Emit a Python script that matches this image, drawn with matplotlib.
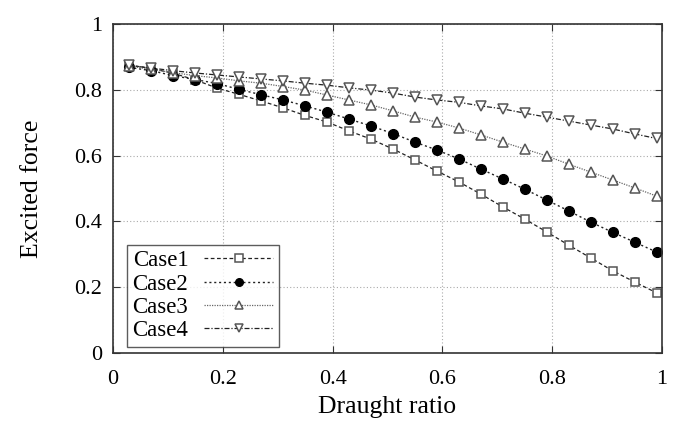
import numpy as np
import matplotlib
matplotlib.use("Agg")
import matplotlib.pyplot as plt

plt.rcParams["font.family"] = ["Liberation Serif", "DejaVu Serif"]

draught = np.round(np.arange(0.03, 1.0, 0.04), 2)

case1 = [0.875, 0.865, 0.850, 0.830, 0.805, 0.786, 0.766, 0.745, 0.722, 0.702,
         0.675, 0.650, 0.620, 0.587, 0.553, 0.520, 0.483, 0.444, 0.407, 0.368,
         0.328, 0.289, 0.250, 0.216, 0.183]
case2 = [0.868, 0.858, 0.843, 0.831, 0.819, 0.801, 0.785, 0.769, 0.751, 0.732,
         0.711, 0.690, 0.667, 0.641, 0.617, 0.590, 0.559, 0.529, 0.498, 0.465,
         0.432, 0.398, 0.367, 0.337, 0.307]
case3 = [0.872, 0.862, 0.852, 0.843, 0.836, 0.827, 0.820, 0.810, 0.799, 0.784,
         0.769, 0.754, 0.736, 0.717, 0.702, 0.684, 0.663, 0.641, 0.620, 0.599,
         0.574, 0.550, 0.526, 0.502, 0.477]
case4 = [0.874, 0.866, 0.858, 0.851, 0.845, 0.839, 0.833, 0.827, 0.820, 0.814,
         0.806, 0.799, 0.790, 0.778, 0.769, 0.762, 0.751, 0.742, 0.729, 0.717,
         0.705, 0.693, 0.681, 0.666, 0.652]

labels = ["Case1", "Case2", "Case3", "Case4"]
ticks = [0, 0.2, 0.4, 0.6, 0.8, 1.0]
tick_labels = ["0", "0.2", "0.4", "0.6", "0.8", "1"]

fig = plt.figure(figsize=(6.87, 4.23), dpi=100)
ax = fig.add_axes([113 / 687, (423 - 353) / 423, 549 / 687, 329 / 423])

grey = "#555555"
ax.plot(draught, case1, linestyle=(0, (3, 2)), color="#222222", lw=0.9,
        marker="s", ms=6, mfc="white", mec=grey, mew=1.1, label=labels[0])
ax.plot(draught, case2, linestyle=(0, (1.5, 2)), color="#222222", lw=1.0,
        marker="o", ms=7, mfc="black", mec="black", label=labels[1])
ax.plot(draught, case3, linestyle=(0, (1, 1)), color="#666666", lw=0.9,
        marker="^", ms=7, mfc="white", mec=grey, mew=1.1, label=labels[2])
ax.plot(draught, case4, linestyle=(0, (4, 1.5, 1, 1.5)), color="#222222", lw=0.9,
        marker="v", ms=7, mfc="white", mec=grey, mew=1.1, label=labels[3])

ax.set_xlim(0, 1)
ax.set_ylim(0, 1)
ax.set_xticks(ticks)
ax.set_yticks(ticks)
ax.set_xticklabels(tick_labels)
ax.set_yticklabels(tick_labels)
ax.grid(True, linestyle=(0, (1, 2)), color="#aaaaaa", lw=0.8)
ax.tick_params(direction="in", top=True, right=True, labelsize=16,
               length=5, color="#333333")
ax.tick_params(axis="x", pad=12)
ax.tick_params(axis="y", pad=8)
for s in ax.spines.values():
    s.set_color("#333333")
    s.set_linewidth(1.2)

ax.set_xlabel("Draught ratio", fontsize=18.5, labelpad=5)
ax.set_ylabel("Excited force", fontsize=18.5, labelpad=22)

leg = ax.legend(loc="lower left", bbox_to_anchor=(0.025, 0.018), markerfirst=False,
                fontsize=16.5, frameon=True, fancybox=False, edgecolor="#333333",
                handlelength=3.0, handletextpad=0.7, borderpad=0.25,
                labelspacing=0.1, borderaxespad=0)
leg.get_frame().set_linewidth(1.0)
for h in leg.legend_handles:
    h.set_markersize(5.5)

fig.savefig("out.png", dpi=100)
